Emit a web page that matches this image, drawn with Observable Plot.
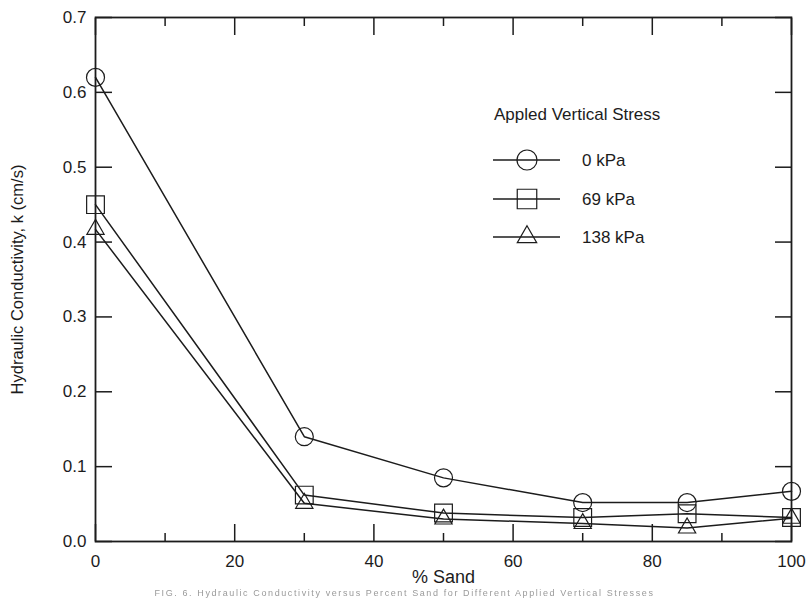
<!DOCTYPE html>
<html>
<head>
<meta charset="utf-8">
<script src="https://cdn.jsdelivr.net/npm/d3@7"></script>
<script src="https://cdn.jsdelivr.net/npm/@observablehq/plot@0.6"></script>
<style>
  html, body { margin: 0; padding: 0; background: #fff; }
  #wrap { position: relative; width: 809px; height: 599px; overflow: hidden; }
  #caption { position: absolute; left: 0; width: 809px; top: 589px; text-align: center;
    font-family: "Liberation Sans", Arial, sans-serif; font-size: 9px; line-height: 9px; letter-spacing: 1.6px;
    color: #9a9a9a; filter: blur(0.6px); white-space: nowrap; }
</style>
</head>
<body>
<div id="wrap"><div id="caption">FIG. 6. Hydraulic Conductivity versus Percent Sand for Different Applied Vertical Stresses</div></div>
<script>
const sand = [0, 30, 50, 70, 85, 100];
const k0kPa = [0.62, 0.14, 0.085, 0.052, 0.052, 0.067];
const k69kPa = [0.45, 0.062, 0.038, 0.032, 0.037, 0.032];
const k138kPa = [0.417, 0.051, 0.030, 0.024, 0.018, 0.031];
const seriesNames = ["0 kPa", "69 kPa", "138 kPa"];
const xMajorTicks = [0, 20, 40, 60, 80, 100];
const xMinorTicks = [10, 30, 50, 70, 90];
const yTicks = [0, 0.1, 0.2, 0.3, 0.4, 0.5, 0.6, 0.7];
const legendTitle = "Appled Vertical Stress";

const ink = "#1c1c1c";
const font = "'Liberation Sans', Arial, sans-serif";
const symbols = ["circle", "square", "triangle"];
const radii = [9, 10, 6.4];
const seriesValues = [k0kPa, k69kPa, k138kPa];

const rows = seriesNames.flatMap((s, i) => sand.map((x, j) => ({series: s, sand: x, k: seriesValues[i][j]})));

const seriesMarks = seriesNames.flatMap((s, i) => {
  const d = rows.filter(r => r.series === s);
  return [
    Plot.line(d, {x: "sand", y: "k", stroke: ink, strokeWidth: 1.5}),
    Plot.dot(d, {x: "sand", y: "k", symbol: () => symbols[i], r: radii[i], stroke: ink, strokeWidth: 1.2, fill: "none"})
  ];
});

const tickOnly = {tickFormat: () => "", label: null, stroke: ink, strokeWidth: 1.5};

const chart = Plot.plot({
  width: 809,
  height: 599,
  marginLeft: 95,
  marginRight: 18,
  marginTop: 17,
  marginBottom: 58,
  style: {fontFamily: font, background: "#fff", color: ink},
  x: {domain: [0, 100]},
  y: {domain: [0, 0.7]},
  marks: [
    Plot.axisX({anchor: "bottom", ticks: xMajorTicks, tickSize: -17, ...tickOnly}),
    Plot.axisX({anchor: "bottom", ticks: xMinorTicks, tickSize: -8, ...tickOnly}),
    Plot.axisX({anchor: "top", ticks: xMajorTicks, tickSize: -17, ...tickOnly}),
    Plot.axisX({anchor: "top", ticks: xMinorTicks, tickSize: -8, ...tickOnly}),
    Plot.axisY({anchor: "left", ticks: yTicks, tickSize: -17, ...tickOnly}),
    Plot.axisY({anchor: "right", ticks: yTicks, tickSize: -17, ...tickOnly}),
    Plot.axisX({anchor: "bottom", ticks: xMajorTicks, tickSize: 0, tickPadding: 13, fontSize: 17,
      label: "% Sand", labelAnchor: "center", labelOffset: 41, labelArrow: "none"}),
    Plot.axisY({anchor: "left", ticks: yTicks, tickSize: 0, tickPadding: 9, fontSize: 17,
      tickFormat: d3.format(".1f"),
      label: "Hydraulic Conductivity, k (cm/s)", labelAnchor: "center", labelOffset: 84, labelArrow: "none"}),
    Plot.frame({stroke: ink, strokeWidth: 1.8}),
    ...seriesMarks
  ]
});

// style axis labels
d3.select(chart).selectAll("[aria-label='x-axis label'] text").attr("font-size", 18);
d3.select(chart).selectAll("[aria-label='y-axis label'] text").attr("font-size", 16.5);

// legend
const svg = d3.select(chart);
const lg = svg.append("g").attr("font-family", font).attr("fill", ink).attr("text-anchor", "start");
lg.append("text").attr("x", 494).attr("y", 120).attr("font-size", 17).text(legendTitle);
const itemY = [160, 199, 237];
const symTypes = [d3.symbolCircle, d3.symbolSquare, d3.symbolTriangle];
const legendR = [10, 11, 7.2];
seriesNames.forEach((s, i) => {
  const y = itemY[i];
  lg.append("line").attr("x1", 493).attr("x2", 560).attr("y1", y).attr("y2", y)
    .attr("stroke", ink).attr("stroke-width", 1.5);
  lg.append("path").attr("transform", `translate(527,${y})`)
    .attr("d", d3.symbol(symTypes[i], Math.PI * legendR[i] * legendR[i])())
    .attr("fill", "none").attr("stroke", ink).attr("stroke-width", 1.2);
  lg.append("text").attr("x", 582).attr("y", y + 6).attr("font-size", 17).text(s);
});

document.getElementById("wrap").prepend(chart);
</script>
</body>
</html>
